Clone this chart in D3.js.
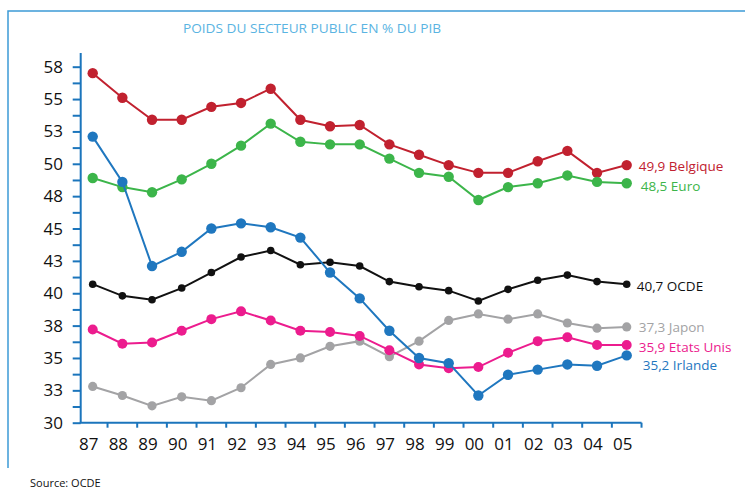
<!DOCTYPE html>
<html>
<head>
<meta charset="utf-8">
<script src="https://cdn.jsdelivr.net/npm/d3@7"></script>
<style>
  body { margin:0; background:#fff; }
  svg { display:block; font-family:"Open Sans", "Noto Sans", sans-serif; }
</style>
</head>
<body>
<svg id="chart" width="745" height="502"></svg>
<script>
const years = ["87","88","89","90","91","92","93","94","95","96","97","98","99","00","01","02","03","04","05"];

const belgique = [57.0,55.1,53.4,53.4,54.4,54.7,55.8,53.4,52.9,53.0,51.5,50.7,49.9,49.3,49.3,50.2,51.0,49.3,49.9];
const euro     = [48.9,48.2,47.8,48.8,50.0,51.4,53.1,51.7,51.5,51.5,50.4,49.3,49.0,47.2,48.2,48.5,49.1,48.6,48.5];
const irlande  = [52.1,48.6,42.1,43.2,45.0,45.4,45.1,44.3,41.6,39.6,37.1,35.0,34.6,32.1,33.7,34.1,34.5,34.4,35.2];
const ocde     = [40.7,39.8,39.5,40.4,41.6,42.8,43.3,42.2,42.4,42.1,40.9,40.5,40.2,39.4,40.3,41.0,41.4,40.9,40.7];
const etatsUnis= [37.2,36.1,36.2,37.1,38.0,38.6,37.9,37.1,37.0,36.7,35.6,34.5,34.2,34.3,35.4,36.3,36.6,36.0,36.0];
const japon    = [32.8,32.1,31.3,32.0,31.7,32.7,34.5,35.0,35.9,36.3,35.1,36.3,37.9,38.4,38.0,38.4,37.7,37.3,37.4];

const yTickLabels = ["30","33","35","38","40","43","45","48","50","53","55","58"];

const series = [
  { name:"Belgique",   label:"49,9 Belgique",   values:belgique,  color:"#c1212f", r:5.2, dy:1,   dx:12 },
  { name:"Euro",       label:"48,5 Euro",       values:euro,      color:"#3cb54a", r:5.2, dy:2.5, dx:14 },
  { name:"Japon",      label:"37,3 Japon",      values:japon,     color:"#a3a3a5", r:4.6, dy:0,   dx:12 },
  { name:"Etats Unis", label:"35,9 Etats Unis", values:etatsUnis, color:"#ec1c8e", r:5.0, dy:1.5, dx:12 },
  { name:"OCDE",       label:"40,7 OCDE",       values:ocde,      color:"#111111", r:3.8, dy:1.5, dx:10 },
  { name:"Irlande",    label:"35,2 Irlande",    values:irlande,   color:"#1f77bf", r:5.2, dy:9.5, dx:16 }
];

const svg = d3.select("#chart");
const axisColor = "#1b75bc";

// frame
svg.append("path")
  .attr("d", "M8,468 L8,11 L745,11")
  .attr("fill","none").attr("stroke","#3d9bd6").attr("stroke-width",1.5);

svg.append("text")
  .attr("x", 183).attr("y", 33)
  .attr("textLength", 258).attr("lengthAdjust","spacingAndGlyphs")
  .attr("fill","#5ab4e2").style("font-size","13.5px")
  .text("POIDS DU SECTEUR PUBLIC EN % DU PIB");

const x = d3.scalePoint().domain(years).range([92.7, 626.7]);
const y = d3.scaleLinear().domain([30, 57.5]).range([422.7, 66.7]);
const step = x.step();

// y axis
const yTicks = d3.range(0, 23).map(i => 30 + i*1.25);
const yAxis = d3.axisLeft(y).tickValues(yTicks).tickSize(8).tickSizeOuter(0).tickFormat("");
const yg = svg.append("g").attr("transform","translate(80.7,0)").call(yAxis);
yg.select(".domain").attr("d", `M0,${y(30)}V${53}`);
yg.selectAll("path,line").attr("stroke", axisColor).attr("stroke-width", 2);

svg.append("g").selectAll("text").data(yTickLabels).enter().append("text")
  .attr("x", 63).attr("y", (d,i) => y(30 + i*2.5) + 6)
  .attr("text-anchor","end").attr("fill","#111").style("font-size","17px")
  .text(d => d);

// x axis
const xEnd = x(years[years.length-1]) + step/2;
svg.append("line")
  .attr("x1", 79.7).attr("x2", xEnd).attr("y1", y(30)).attr("y2", y(30))
  .attr("stroke", axisColor).attr("stroke-width", 2);
svg.append("g").selectAll("line").data(years).enter().append("line")
  .attr("x1", d => x(d) + step/2).attr("x2", d => x(d) + step/2)
  .attr("y1", y(30)).attr("y2", y(30) + 5)
  .attr("stroke", axisColor).attr("stroke-width", 2);
svg.append("g").selectAll("text").data(years).enter().append("text")
  .attr("x", d => x(d) - 4).attr("y", 450)
  .attr("text-anchor","middle").attr("fill","#111").style("font-size","17px")
  .text(d => d);

// lines
const line = d3.line().x((d,i) => x(years[i])).y(d => y(d));
const sg = svg.append("g").selectAll("g").data(series).enter().append("g");
sg.append("path")
  .attr("d", d => line(d.values))
  .attr("fill","none").attr("stroke", d => d.color).attr("stroke-width", 2);
sg.each(function(s) {
  d3.select(this).selectAll("circle").data(s.values).enter().append("circle")
    .attr("cx", (d,i) => x(years[i])).attr("cy", d => y(d))
    .attr("r", s.r).attr("fill", s.color);
});
sg.append("text")
  .attr("x", d => x(years[years.length-1]) + d.dx)
  .attr("y", d => y(d.values[d.values.length-1]) + d.dy + 5)
  .attr("fill", d => d.color).style("font-size","13.5px")
  .text(d => d.label);

svg.append("text")
  .attr("x", 30).attr("y", 487)
  .attr("fill","#111").style("font-size","11px")
  .text("Source: OCDE");
</script>
</body>
</html>
